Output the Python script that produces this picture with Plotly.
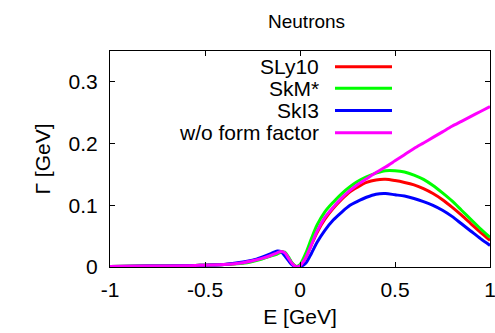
import plotly.graph_objects as go

# ---- data ----
E = [-1.0, -0.8, -0.6, -0.5, -0.4, -0.3, -0.25, -0.2, -0.15, -0.12, -0.1, -0.08, -0.06,
     -0.04, -0.02, 0.0, 0.03, 0.06, 0.09, 0.13, 0.175, 0.22, 0.263, 0.3, 0.35, 0.4,
     0.45, 0.5, 0.55, 0.6, 0.65, 0.7, 0.75, 0.8, 0.85, 0.9, 0.95, 1.0]

sly10 = [0.001, 0.0015, 0.002, 0.003, 0.004, 0.007, 0.010, 0.014, 0.019, 0.023, 0.025, 0.022, 0.014,
         0.005, 0.0008, 0.002, 0.015, 0.036, 0.056, 0.077, 0.095, 0.110, 0.122, 0.129, 0.137, 0.141,
         0.142, 0.140, 0.137, 0.133, 0.127, 0.119, 0.109, 0.097, 0.084, 0.070, 0.056, 0.043]

skm = [0.001, 0.0015, 0.002, 0.003, 0.004, 0.006, 0.009, 0.013, 0.018, 0.021, 0.024, 0.024, 0.016,
       0.006, 0.001, 0.004, 0.022, 0.046, 0.068, 0.089, 0.105, 0.119, 0.130, 0.138, 0.146, 0.152,
       0.156, 0.156, 0.154, 0.149, 0.142, 0.132, 0.120, 0.107, 0.092, 0.077, 0.062, 0.048]

ski3 = [0.001, 0.0015, 0.002, 0.003, 0.004, 0.008, 0.011, 0.016, 0.022, 0.026, 0.025, 0.018, 0.010,
        0.003, 0.0003, 0.0005, 0.006, 0.022, 0.040, 0.059, 0.076, 0.089, 0.100, 0.106, 0.113, 0.118,
        0.119, 0.117, 0.115, 0.111, 0.106, 0.100, 0.092, 0.082, 0.070, 0.058, 0.046, 0.035]

noff = [0.001, 0.0015, 0.002, 0.003, 0.004, 0.007, 0.010, 0.014, 0.019, 0.023, 0.025, 0.023, 0.014,
        0.005, 0.0005, 0.002, 0.015, 0.036, 0.058, 0.080, 0.097, 0.112, 0.124, 0.133, 0.143, 0.153,
        0.162, 0.172, 0.182, 0.192, 0.201, 0.210, 0.219, 0.228, 0.236, 0.244, 0.252, 0.260]

series = [("SLy10", sly10, "#ff0000"),
          ("SkM*", skm, "#00ff00"),
          ("SkI3", ski3, "#0000ff"),
          ("w/o form factor", noff, "#ff00ff")]

x_ticks = [-1, -0.5, 0, 0.5, 1]
x_ticklabels = ["-1", "-0.5", "0", "0.5", "1"]
y_ticks = [0, 0.1, 0.2, 0.3]
y_ticklabels = ["0", "0.1", "0.2", "0.3"]

FONT = "Liberation Sans, Arial, Helvetica, sans-serif"
FS = 21
W, H = 495, 333
L, R, T, B = 110, 5, 51, 66
PW, PH = W - L - R, H - T - B

fig = go.Figure()
for name, ys, col in series:
    fig.add_trace(go.Scatter(x=E, y=ys, mode="lines", name=name,
                             line=dict(color=col, width=3, shape="spline", smoothing=0.8),
                             showlegend=False))

def px2paper(px, py):
    return (px - L) / PW, (H - B - py) / PH

# manual gnuplot-style legend: text right-aligned, sample line to the right
rows_y = [66.7, 88.3, 110.5, 132.7]
for (name, ys, col), ry in zip(series, rows_y):
    tx, ty = px2paper(321, ry)
    fig.add_annotation(x=tx, y=ty, xref="paper", yref="paper", text=name, showarrow=False,
                       xanchor="right", yanchor="middle", font=dict(family=FONT, size=FS, color="black"))
    x0, y0 = px2paper(335, ry)
    x1, _ = px2paper(392, ry)
    fig.add_shape(type="line", xref="paper", yref="paper", x0=x0, x1=x1, y0=y0, y1=y0,
                  line=dict(color=col, width=3))

# title
tx, ty = px2paper(306, 21)
fig.add_annotation(x=tx, y=ty, xref="paper", yref="paper", text="Neutrons", showarrow=False,
                   xanchor="center", yanchor="middle", font=dict(family=FONT, size=19, color="black"))

fig.update_layout(
    width=W, height=H,
    margin=dict(l=L, r=R, t=T, b=B, pad=0, autoexpand=False),
    paper_bgcolor="white", plot_bgcolor="white",
    font=dict(family=FONT, size=FS, color="black"),
    showlegend=False,
    xaxis=dict(range=[-1, 1], tickvals=x_ticks, ticktext=x_ticklabels, ticks="inside", ticklen=5,
               tickwidth=1, tickcolor="black", showline=True, linecolor="black", linewidth=1,
               mirror="allticks", showgrid=False, zeroline=False, ticklabelstandoff=4,
               ticklabeloverflow="allow", automargin=False,
               title=dict(text="E [GeV]", font=dict(size=FS), standoff=9)),
    yaxis=dict(range=[0, 0.35], tickvals=y_ticks, ticktext=y_ticklabels, ticks="inside", ticklen=5,
               tickwidth=1, tickcolor="black", showline=True, linecolor="black", linewidth=1,
               mirror="allticks", showgrid=False, zeroline=False, ticklabelstandoff=7,
               ticklabeloverflow="allow", automargin=False,
               title=dict(text="Γ [GeV]", font=dict(size=FS), standoff=12)),
)

fig.write_html("out.html")
